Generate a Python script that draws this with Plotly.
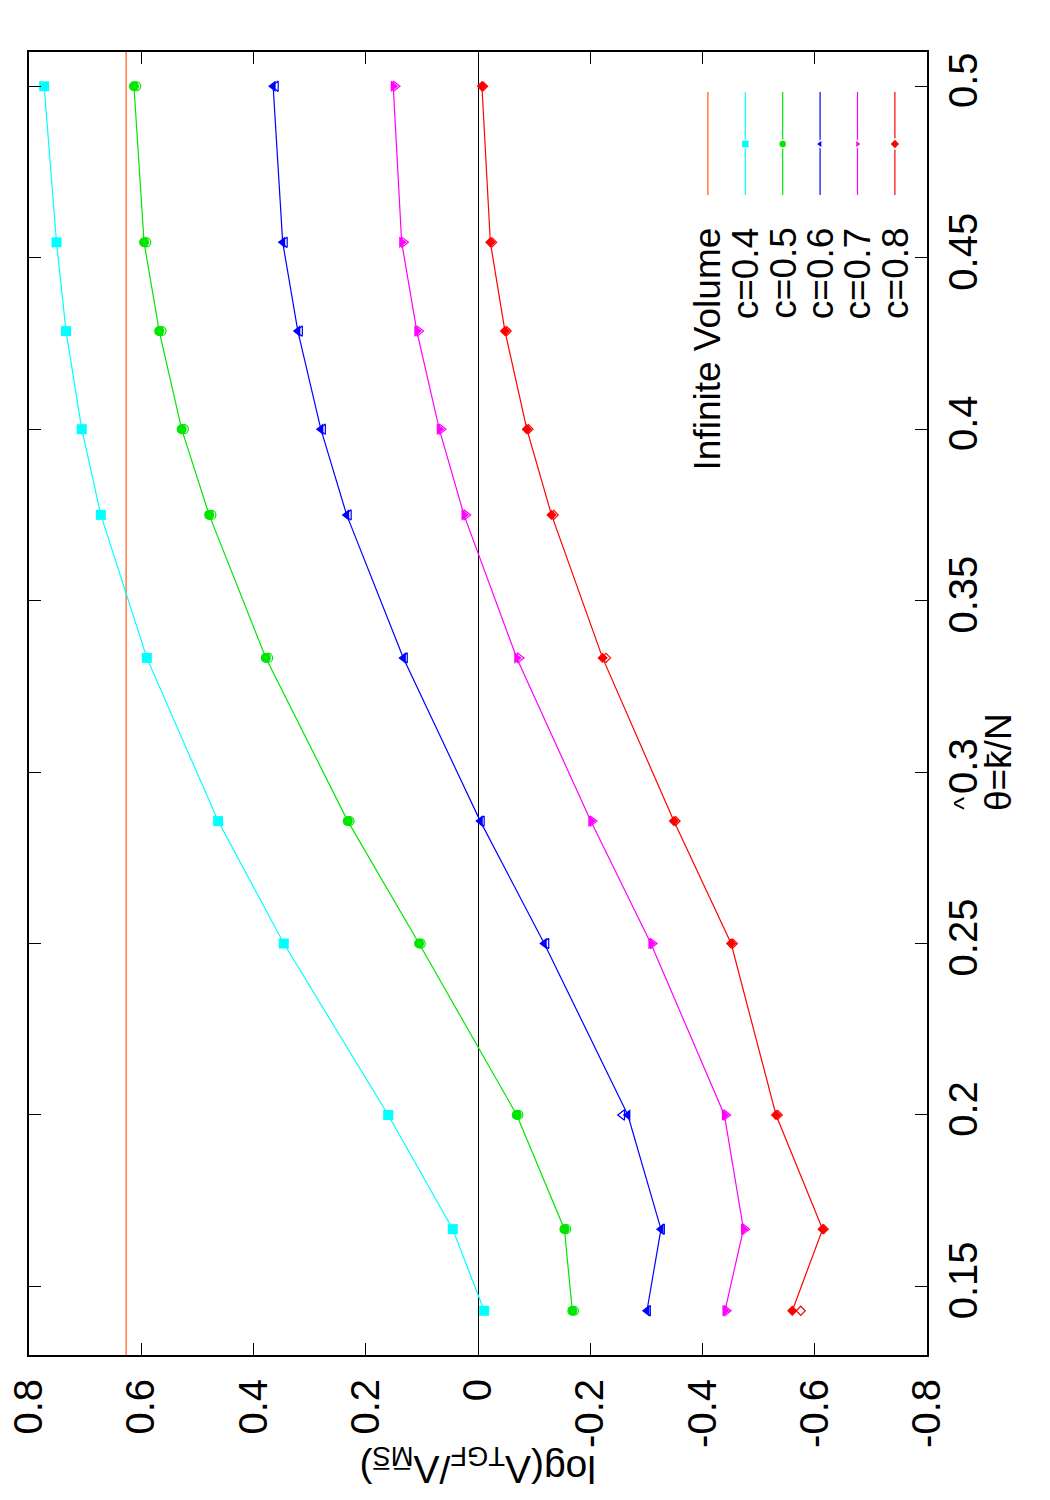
import plotly.graph_objects as go

# ---------------- data ----------------
theta = [0.1429, 0.1667, 0.2, 0.25, 0.2857, 0.3333, 0.375, 0.4, 0.4286, 0.4545, 0.5]

c04 = [-0.011, 0.045, 0.160, 0.346, 0.463, 0.590, 0.672, 0.706, 0.734, 0.751, 0.773]
c05 = [-0.168, -0.154, -0.069, 0.105, 0.232, 0.378, 0.479, 0.528, 0.568, 0.595, 0.613]
c05_open = [-0.171, -0.157, -0.072, 0.102, 0.229, 0.374, 0.475, 0.524, 0.564, 0.591, 0.609]
c06 = [-0.301, -0.326, -0.267, -0.118, -0.004, 0.133, 0.234, 0.280, 0.321, 0.348, 0.365]
c06_open = [-0.303, -0.328, -0.257, -0.122, -0.007, 0.130, 0.230, 0.276, 0.317, 0.344, 0.360]
c07 = [-0.440, -0.473, -0.439, -0.308, -0.201, -0.069, 0.025, 0.069, 0.109, 0.136, 0.151]
c07_open = [-0.443, -0.476, -0.442, -0.311, -0.204, -0.074, 0.021, 0.065, 0.105, 0.132, 0.147]
c08 = [-0.560, -0.614, -0.531, -0.451, -0.349, -0.222, -0.131, -0.087, -0.048, -0.022, -0.007]
c08_open = [-0.575, -0.616, -0.534, -0.454, -0.352, -0.228, -0.135, -0.090, -0.051, -0.025, -0.009]

infinite_volume = 0.627

value_ticks = [0.8, 0.6, 0.4, 0.2, 0, -0.2, -0.4, -0.6, -0.8]
value_tick_text = ["0.8", "0.6", "0.4", "0.2", "0", "-0.2", "-0.4", "-0.6", "-0.8"]
theta_ticks = [0.15, 0.2, 0.25, 0.3, 0.35, 0.4, 0.45, 0.5]
theta_tick_text = ["0.15", "0.2", "0.25", "0.3", "0.35", "0.4", "0.45", "0.5"]

legend_labels = ["Infinite Volume", "c=0.4", "c=0.5", "c=0.6", "c=0.7", "c=0.8"]

# ---------------- styles ----------------
FONT = "Liberation Sans"
FS_TICK = 40
FS_TEXT = 37
ORANGE = "#ff5a14"
series = [
    ("c=0.4", c04, None, "#00ffff", "square", 10),
    ("c=0.5", c05, c05_open, "#00e600", "circle", 10),
    ("c=0.6", c06, c06_open, "#0000ff", "triangle-left", 10),
    ("c=0.7", c07, c07_open, "#ff00ff", "triangle-right", 10),
    ("c=0.8", c08, c08_open, "#ff0000", "diamond", 8),
]

fig = go.Figure()

for name, vals, opn, color, sym, sz in series:
    fig.add_trace(go.Scatter(
        x=vals, y=theta, mode="lines+markers", name=name, showlegend=False,
        line=dict(color=color, width=1.2),
        marker=dict(symbol=sym, size=sz, color=color, line=dict(width=0)),
    ))
    if opn is not None:
        fig.add_trace(go.Scatter(
            x=opn, y=theta, mode="markers", showlegend=False,
            marker=dict(symbol=sym + "-open", size=sz - 1, color=color, line=dict(width=1.2)),
        ))

# infinite volume line
fig.add_shape(type="line", xref="x", yref="paper", x0=infinite_volume, x1=infinite_volume,
              y0=0, y1=1, line=dict(color=ORANGE, width=1.2), layer="below")

# ---------------- manual rotated legend ----------------
leg_colors = [ORANGE] + [s[3] for s in series]
leg_symbols = [None] + [s[4] for s in series]
col_x0, col_dx = 0.756, 0.04165
line_top, line_mid, line_bot = 0.9693, 0.9294, 0.8903
text_top = 0.8672
for i, (lab, col, sym) in enumerate(zip(legend_labels, leg_colors, leg_symbols)):
    cx = col_x0 + i * col_dx
    fig.add_trace(go.Scatter(
        x=[cx, cx], y=[line_bot, line_top], xaxis="x2", yaxis="y2", mode="lines",
        line=dict(color=col, width=1.2), showlegend=False, hoverinfo="skip"))
    if sym is not None:
        fig.add_trace(go.Scatter(
            x=[cx], y=[line_mid], xaxis="x2", yaxis="y2", mode="markers",
            marker=dict(symbol=sym, size=8, color=col, line=dict(color="white", width=1.5)),
            showlegend=False, hoverinfo="skip"))
    fig.add_annotation(x=cx, y=text_top, xref="paper", yref="paper", text=lab,
                       textangle=-90, showarrow=False, xanchor="center", yanchor="top",
                       font=dict(family=FONT, size=FS_TEXT, color="black"))

# axis titles (rotated as in reference)
fig.add_annotation(x=0.5, y=-0.085, xref="paper", yref="paper",
                   text="log(Λ<sub>TGF</sub>/Λ<sub>M\u0305S\u0305</sub>)",
                   textangle=180, showarrow=False, xanchor="center", yanchor="middle",
                   font=dict(family=FONT, size=39, color="black"))
fig.add_annotation(x=1.079, y=0.455, xref="paper", yref="paper",
                   text="θ=k\u0304/N",
                   textangle=-90, showarrow=False, xanchor="center", yanchor="middle",
                   font=dict(family=FONT, size=FS_TEXT, color="black"))
# the hat over theta (drawn separately, as in the reference)
fig.add_annotation(x=1.040, y=0.4235, xref="paper", yref="paper",
                   text="^", textangle=-90, showarrow=False, xanchor="center", yanchor="middle",
                   font=dict(family=FONT, size=28, color="black"))

axis_common = dict(
    ticks="inside", ticklen=12, tickwidth=1, tickcolor="black",
    showline=True, linewidth=2, linecolor="black", mirror="ticks",
    showgrid=False, tickangle=-90,
    tickfont=dict(family=FONT, size=FS_TICK, color="black"),
)

fig.update_layout(
    width=1050, height=1500,
    margin=dict(l=29, r=123, t=52, b=145),
    paper_bgcolor="white", plot_bgcolor="white",
    template="none",
    showlegend=False,
    xaxis=dict(range=[0.8, -0.8], tickvals=value_ticks, ticktext=value_tick_text,
               zeroline=True, zerolinecolor="black", zerolinewidth=1,
               ticklabelstandoff=6, **axis_common),
    yaxis=dict(range=[0.13, 0.51], side="right", tickvals=theta_ticks, ticktext=theta_tick_text,
               zeroline=False, ticklabelstandoff=0, **axis_common),
    xaxis2=dict(overlaying="x", range=[0, 1], visible=False, anchor="y2"),
    yaxis2=dict(overlaying="y", range=[0, 1], visible=False, anchor="x2"),
)

fig.write_html("out.html")
